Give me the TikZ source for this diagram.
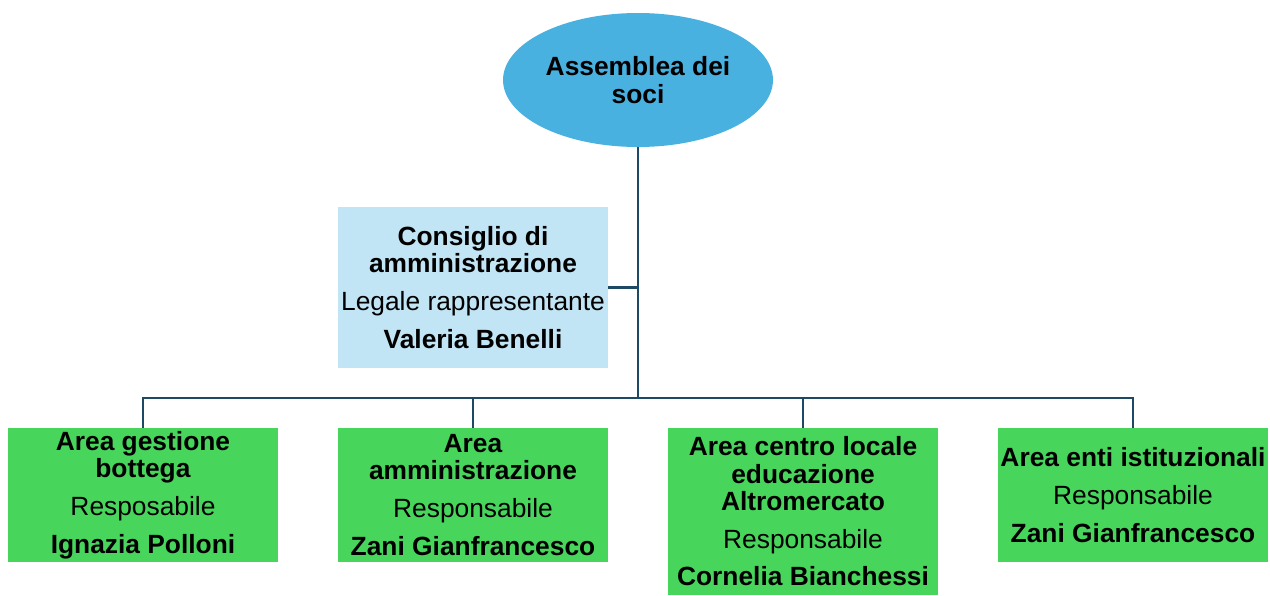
\documentclass[tikz,border=0pt]{standalone}
\usepackage{fontspec}
\setmainfont{Liberation Sans}
\usetikzlibrary{shapes.geometric}
\definecolor{soci}{RGB}{72,177,224}
\definecolor{consiglio}{RGB}{194,229,245}
\definecolor{area}{RGB}{72,213,92}
\definecolor{linea}{RGB}{28,74,102}
\begin{document}
\begin{tikzpicture}[x=0.02cm,y=-0.02cm]
        \tikzset{box/.style = {shape=rectangle,fill=area,minimum width=5.4cm,minimum height=2.68cm,inner sep=0pt,align=center,font=\fontsize{15}{15.5}\selectfont}}
        \tikzset{edge/.style = {draw=linea,line width=1.5pt}}
        \useasboundingbox (0,0) rectangle (1270,595);
        % vertices
        \node[shape=ellipse,fill=soci,minimum width=5.4cm,minimum height=2.68cm,inner sep=0pt,align=center,font=\fontsize{15}{15.5}\selectfont\bfseries] (assemblea) at (638,80) {Assemblea dei\\soci};
        \node[box,fill=consiglio,minimum height=3.22cm] (consiglio) at (473,287.5) {\textbf{Consiglio di}\\\textbf{amministrazione}\\[6pt]Legale rappresentante\\[6pt]\textbf{Valeria Benelli}};
        \node[box] (gestione) at (143,495) {\textbf{Area gestione}\\\textbf{bottega}\\[6pt]Resposabile\\[6pt]\textbf{Ignazia Polloni}};
        \node[box] (amministrazione) at (473,495) {\textbf{Area}\\\textbf{amministrazione}\\[6pt]Responsabile\\[6pt]\textbf{Zani Gianfrancesco}};
        \node[box,minimum height=3.34cm] (educazione) at (803,511.5) {\textbf{Area centro locale}\\\textbf{educazione}\\\textbf{Altromercato}\\[6pt]Responsabile\\[6pt]\textbf{Cornelia Bianchessi}};
        \node[box] (enti) at (1133,495) {\textbf{Area enti istituzionali}\\[6pt]Responsabile\\[6pt]\textbf{Zani Gianfrancesco}};
        \coordinate (bus) at (638,398);
        %edges
        \draw[edge] (assemblea) -- (bus);
        \draw[edge] (consiglio.east) -- (consiglio.east -| bus);
        \draw[edge] (bus) -| (gestione);
        \draw[edge] (bus) -| (amministrazione);
        \draw[edge] (bus) -| (educazione);
        \draw[edge] (bus) -| (enti);
    \end{tikzpicture}
\end{document}
